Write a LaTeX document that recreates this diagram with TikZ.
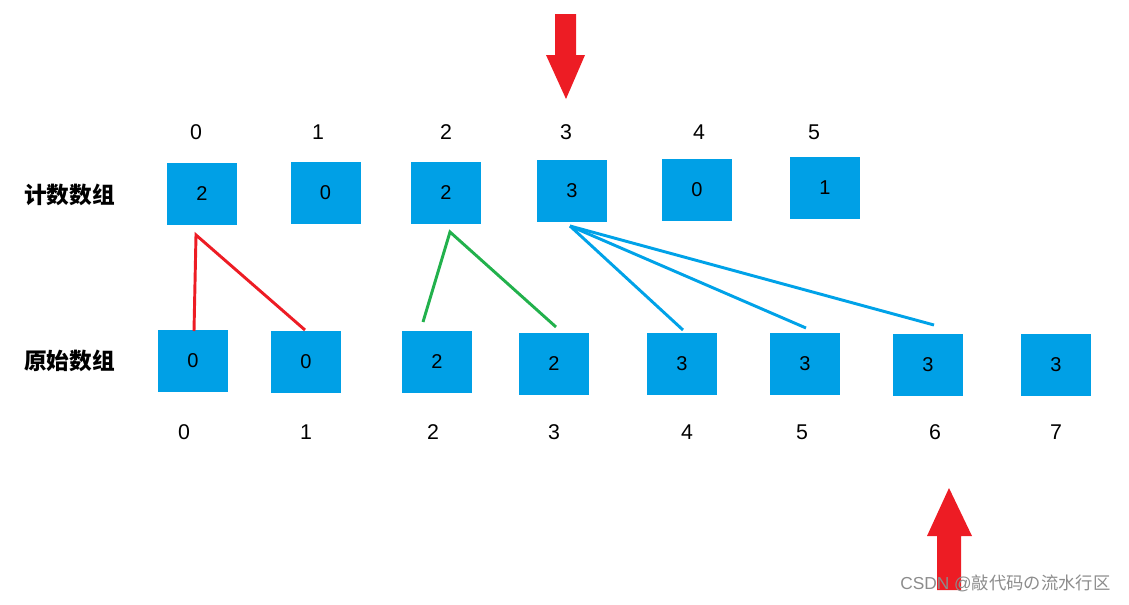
\documentclass[tikz,border=0pt]{standalone}
\usepackage{fontspec}
\setmainfont{Liberation Sans}
\newfontfamily\cjk{Noto Sans CJK SC}
\definecolor{boxblue}{RGB}{0,160,230}
\definecolor{lineblue}{RGB}{0,162,232}
\definecolor{arrred}{RGB}{237,28,36}
\definecolor{lgreen}{RGB}{34,177,76}
\begin{document}
\begin{tikzpicture}[x=0.75pt,y=-0.75pt,
  cell/.style={fill=boxblue,minimum width=52.5pt,minimum height=46.5pt,inner sep=0pt,font=\fontsize{15}{18}\selectfont},
  idx/.style={font=\fontsize{16}{19}\selectfont,inner sep=0pt},
  rowlab/.style={font=\cjk\bfseries\fontsize{17}{20}\selectfont,inner sep=0pt,anchor=west},
  conn/.style={line width=2.2pt},
  bigarrow/.style={fill=arrred,draw=none}]
\useasboundingbox (0,0) rectangle (1129,604);
% row labels
\node[rowlab] (lc) at (24,195) {计数数组};
\node[rowlab] (lo) at (24,361) {原始数组};
% count array
\node[cell] (c0) at (202,194) {2};
\node[cell] (c1) at (325.5,193) {0};
\node[cell] (c2) at (446,193) {2};
\node[cell] (c3) at (572,191) {3};
\node[cell] (c4) at (697,190) {0};
\node[cell] (c5) at (825,188) {1};
% top indices
\foreach \i/\x in {0/196,1/318,2/446,3/566,4/699,5/814}
  \node[idx] (ti\i) at (\x,132) {\i};
% original array
\node[cell] (o0) at (193,361) {0};
\node[cell] (o1) at (306,362) {0};
\node[cell] (o2) at (437,362) {2};
\node[cell] (o3) at (554,364) {2};
\node[cell] (o4) at (682,364) {3};
\node[cell] (o5) at (805,364) {3};
\node[cell] (o6) at (928,365) {3};
\node[cell] (o7) at (1056,365) {3};
% bottom indices
\foreach \i/\x in {0/184,1/306,2/433,3/554,4/687,5/802,6/935,7/1056}
  \node[idx] (bi\i) at (\x,432) {\i};
% apex coordinates
\coordinate (rA) at (196,235);
\coordinate (gA) at (450,232);
\coordinate (bA) at (570,226);
\coordinate (r0) at (194,331);
\coordinate (r1) at (305,330);
\coordinate (g0) at (423,322);
\coordinate (g1) at (556,327);
\coordinate (b0) at (683,330);
\coordinate (b1) at (806,328);
\coordinate (b2) at (934,325);
% connectors
\draw[conn,arrred] (r0) -- (rA) -- (r1);
\draw[conn,lgreen] (g0) -- (gA) -- (g1);
\draw[conn,lineblue] (bA) -- (b0);
\draw[conn,lineblue] (bA) -- (b1);
\draw[conn,lineblue] (bA) -- (b2);
% big arrows
\fill[bigarrow] (555,14) -- (576,14) -- (576,55) -- (585,55) -- (566,99) -- (546,55) -- (555,55) -- cycle;
\fill[bigarrow] (937,590) -- (961,590) -- (961,536) -- (972,536) -- (949,488) -- (927,536) -- (937,536) -- cycle;
% watermark
\node[anchor=west,text=black!45,font=\fontsize{13}{15}\selectfont,inner sep=0pt] (wm) at (900,583) {CSDN @{\cjk 敲代码の流水行区}};
\end{tikzpicture}
\end{document}
